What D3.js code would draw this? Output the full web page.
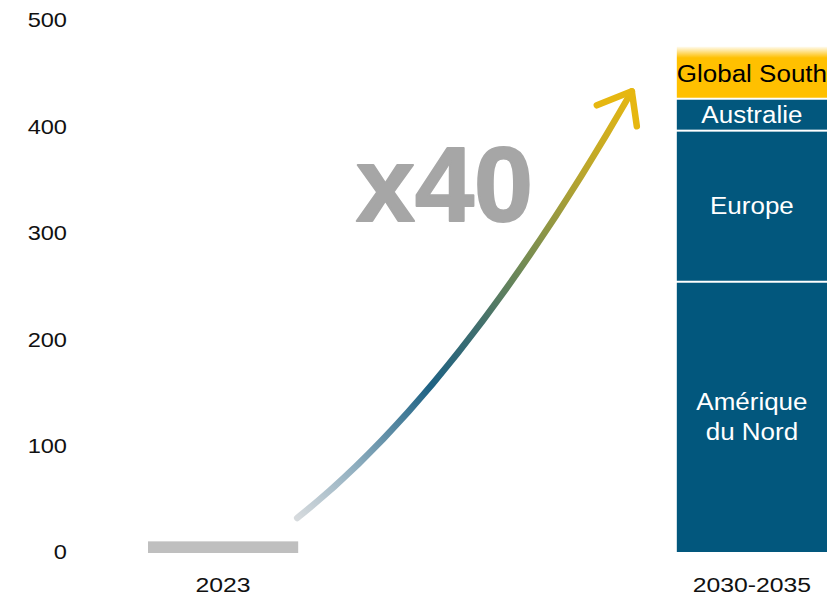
<!DOCTYPE html>
<html>
<head>
<meta charset="utf-8">
<script src="https://cdn.jsdelivr.net/npm/d3@7"></script>
<style>
  html, body { margin: 0; padding: 0; background: #fff; }
  svg { display: block; font-family: "Liberation Sans", Arial, sans-serif; }
</style>
</head>
<body>
<svg id="chart" width="833" height="600"></svg>
<script>
// ---- data ----
const categories = ["2023", "2030-2035"];
const baseValues = [10];                 // 2023 total
const regions = ["Amérique du Nord", "Europe", "Australie", "Global South"];
const regionValues = [254, 142, 30, 49]; // 2030-2035 stack
const regionLabels = [["Amérique", "du Nord"], ["Europe"], ["Australie"], ["Global South"]];
const yTicks = [0, 100, 200, 300, 400, 500];
const multiplierLabel = "x40";

// ---- layout ----
const svg = d3.select("#chart");
const y = d3.scaleLinear().domain([0, 500]).range([552, 20]);
const x = d3.scaleBand().domain(categories).range([148, 827]).paddingInner(0.716).paddingOuter(0);
const bw = x.bandwidth();

const navy = "#02577D";
const gold = "#FFC000";
const stretch = 1.13;

const defs = svg.append("defs");

// y-axis labels (no line, no ticks)
const yAxis = d3.axisLeft(y).tickValues(yTicks).tickSize(0).tickPadding(0);
const gy = svg.append("g").attr("transform", "translate(67,0)").call(yAxis);
gy.select(".domain").remove();
gy.selectAll("text")
  .attr("font-family", "Liberation Sans, Arial, sans-serif")
  .attr("font-size", 20).attr("fill", "#111").attr("dy", "0.34em")
  .attr("transform", "scale(1.18,1)");

// x-axis labels
const xAxis = d3.axisBottom(x).tickSize(0).tickPadding(0);
const gx = svg.append("g").attr("transform", "translate(0,585)").call(xAxis);
gx.select(".domain").remove();
gx.selectAll("text")
  .attr("font-family", "Liberation Sans, Arial, sans-serif")
  .attr("font-size", 21).attr("fill", "#111").attr("dy", "0.35em")
  .attr("transform", "scale(1.18,1)");

// 2023 bar
svg.append("g").selectAll("rect").data(baseValues).join("rect")
  .attr("x", x(categories[0]))
  .attr("width", bw)
  .attr("y", d => y(d))
  .attr("height", d => y(0) - y(d) + 1)
  .attr("fill", "#BFBFBF");

// Global South gradient (fades to white at top)
const gsGrad = defs.append("linearGradient").attr("id", "gsGrad")
  .attr("x1", 0).attr("y1", 0).attr("x2", 0).attr("y2", 1);
gsGrad.append("stop").attr("offset", "0%").attr("stop-color", gold).attr("stop-opacity", 0.05);
gsGrad.append("stop").attr("offset", "22%").attr("stop-color", gold).attr("stop-opacity", 1);
gsGrad.append("stop").attr("offset", "100%").attr("stop-color", gold).attr("stop-opacity", 1);

// stacked bar
const stackData = [];
let cum = 0;
regionValues.forEach((v, i) => { stackData.push({ name: regions[i], y0: cum, y1: cum + v, lines: regionLabels[i], i }); cum += v; });
const last = regions.length - 1;

const seg = svg.append("g").selectAll("g").data(stackData).join("g");
seg.append("rect")
  .attr("x", x(categories[1]))
  .attr("width", bw)
  .attr("y", d => y(d.y1) + (d.i === last ? 0 : 1))
  .attr("height", d => y(d.y0) - y(d.y1) - (d.i === 0 ? 0 : 1) - (d.i === last ? 0 : 1))
  .attr("fill", d => d.i === last ? "url(#gsGrad)" : navy);

seg.append("text")
  .attr("transform", d => `translate(${x(categories[1]) + bw / 2},${(y(d.y0) + y(d.y1)) / 2 + (d.i === last ? 1 : 0)}) scale(${stretch},1)`)
  .attr("text-anchor", "middle")
  .attr("font-size", 23)
  .attr("fill", d => d.i === last ? "#000" : "#fff")
  .each(function (d) {
    const t = d3.select(this);
    const n = d.lines.length;
    d.lines.forEach((l, k) => {
      t.append("tspan")
        .attr("x", 0)
        .attr("dy", k === 0 ? `${0.35 - (n - 1) * 0.65}em` : "1.3em")
        .text(l);
    });
  });

// ---- growth arrow annotation (in data space) ----
const xStart = x(categories[0]) + bw - 1;
const xEnd = x(categories[1]) - 45;
const p0 = [xStart, y(32)];
const p2 = [xEnd, y(433)];
const p1 = [xStart + 165, y(155)];

const arrowGrad = defs.append("linearGradient").attr("id", "arrowGrad")
  .attr("gradientUnits", "userSpaceOnUse")
  .attr("x1", p0[0]).attr("y1", p0[1]).attr("x2", p2[0]).attr("y2", p2[1]);
[[0, "#D6DADD"], [0.14, "#8FAEBF"], [0.34, "#1E6284"], [0.48, "#3F6E6E"], [0.62, "#718A55"], [0.82, "#B8A52E"], [1, "#E6B711"]]
  .forEach(([o, c]) => arrowGrad.append("stop").attr("offset", o).attr("stop-color", c));

const path = d3.path();
path.moveTo(p0[0], p0[1]);
path.quadraticCurveTo(p1[0], p1[1], p2[0], p2[1]);
svg.append("path").attr("d", path.toString())
  .attr("fill", "none").attr("stroke", "url(#arrowGrad)")
  .attr("stroke-width", 6.5).attr("stroke-linecap", "round");

const head = d3.path();
head.moveTo(p2[0] - 35, p2[1] + 14);
head.lineTo(p2[0], p2[1]);
head.lineTo(p2[0] + 5, p2[1] + 35);
svg.append("path").attr("d", head.toString())
  .attr("fill", "none").attr("stroke", "#E6B711")
  .attr("stroke-width", 6.5).attr("stroke-linecap", "round").attr("stroke-linejoin", "round");

// multiplier label
svg.append("text")
  .attr("x", (x(categories[0]) + x(categories[1]) + bw) / 2 - 43)
  .attr("y", y(311))
  .attr("text-anchor", "middle")
  .attr("font-size", 106)
  .attr("font-weight", "bold")
  .attr("fill", "#A6A6A6")
  .attr("stroke", "#A6A6A6").attr("stroke-width", 2).attr("stroke-linejoin", "round")
  .text(multiplierLabel);
</script>
</body>
</html>
